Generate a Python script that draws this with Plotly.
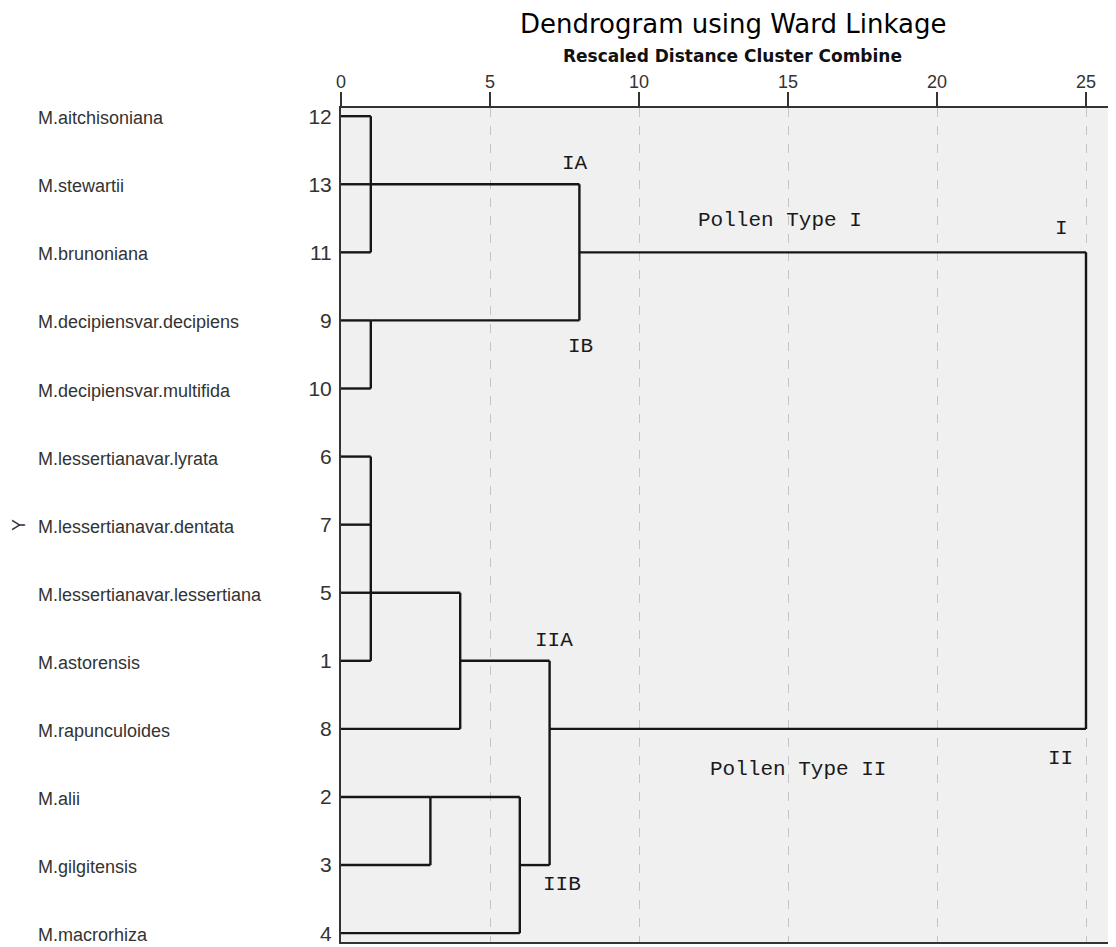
import plotly.graph_objects as go

# ---------------- data ----------------
leaf_names = ["M.aitchisoniana", "M.stewartii", "M.brunoniana",
              "M.decipiensvar.decipiens", "M.decipiensvar.multifida",
              "M.lessertianavar.lyrata", "M.lessertianavar.dentata",
              "M.lessertianavar.lessertiana", "M.astorensis",
              "M.rapunculoides", "M.alii", "M.gilgitensis", "M.macrorhiza"]
leaf_ids = ["12", "13", "11", "9", "10", "6", "7", "5", "1", "8", "2", "3", "4"]
# rescaled distance at which each leaf joins its first cluster
leaf_join = [1, 1, 1, 1, 1, 1, 1, 1, 1, 4, 3, 3, 6]

# merges: distance, first row, last row, row of the outgoing line, parent distance
merge_dist = [1, 1, 8, 1, 4, 3, 6, 7, 25]
merge_top = [0, 3, 1, 5, 7, 10, 10, 8, 2]
merge_bottom = [2, 4, 3, 8, 9, 11, 12, 11, 9]
merge_out = [1, 3, 2, 7, 8, 10, 11, 9, None]
merge_parent = [8, 8, 25, 4, 7, 6, 7, 25, None]

x_ticks = [0, 5, 10, 15, 20, 25]

cluster_labels = ["IA", "IB", "Pollen Type I", "I", "II", "Pollen Type II", "IIA", "IIB"]
cluster_label_x = [7.85, 8.05, 14.73, 24.19, 24.16, 15.34, 7.15, 7.42]
cluster_label_y = [0.69, 3.38, 1.53, 1.65, 9.44, 9.59, 7.70, 11.28]

# ---------------- build segments ----------------
xs, ys = [], []
for row, d in enumerate(leaf_join):
    xs += [0, d, None]
    ys += [row, row, None]
for d, t, b, o, p in zip(merge_dist, merge_top, merge_bottom, merge_out, merge_parent):
    xs += [d, d, None]
    ys += [t, b, None]
    if o is not None:
        xs += [d, p, None]
        ys += [o, o, None]

fig = go.Figure()
fig.add_trace(go.Scatter(x=xs, y=ys, mode="lines",
                         line=dict(color="#161616", width=2.4),
                         hoverinfo="skip", showlegend=False))

# page offset of the figure div (default body margin)
OX, OY = 8, 8
VW, VH = 1116, 947
W, H = VW - OX, VH - OY
# plot area in viewport pixels
PL, PT, PR, PB = 341, 108, 1116, 942
ML, MT = PL - OX, PT - OY
MR, MB = (W + OX) - PR, (H + OY) - PB
PW, PH = PR - PL, PB - PT


def px(xp):
    return (xp - PL) / PW


def py(yp):
    return (PB - yp) / PH


ann = []
for i, name in enumerate(leaf_names):
    ann.append(dict(text=name, xref="paper", yref="y", x=px(36), y=i + 0.03,
                    xanchor="left", yanchor="middle", showarrow=False,
                    font=dict(family="Liberation Sans, Arial", size=18, color="#333333")))
for t, x, y in zip(cluster_labels, cluster_label_x, cluster_label_y):
    ann.append(dict(text=t, xref="x", yref="y", x=x, y=y, xanchor="center",
                    yanchor="middle", showarrow=False,
                    font=dict(family="Liberation Mono, Courier New", size=21, color="#1a1a1a")))
ann.append(dict(text="Dendrogram using Ward Linkage", xref="paper", yref="paper",
                x=px(733), y=py(24), xanchor="center", yanchor="middle", showarrow=False,
                font=dict(family="DejaVu Sans", size=26, color="#000000")))
ann.append(dict(text="<b>Rescaled Distance Cluster Combine</b>", xref="paper", yref="paper",
                x=px(732), y=py(56), xanchor="center", yanchor="middle", showarrow=False,
                font=dict(family="DejaVu Sans", size=17, color="#111111")))
ann.append(dict(text="Y", xref="paper", yref="paper", x=px(19), y=py(525),
                xanchor="center", yanchor="middle", textangle=-90, showarrow=False,
                font=dict(family="Liberation Sans, Arial", size=18, color="#333333")))

fig.update_layout(
    width=W, height=H,
    margin=dict(l=ML, r=MR, t=MT, b=MB, pad=0),
    paper_bgcolor="white", plot_bgcolor="#f0f0f0",
    annotations=ann,
    xaxis=dict(side="top", range=[0, PW / 29.8], tickvals=x_ticks,
               ticktext=[str(v) for v in x_ticks],
               ticks="outside", ticklen=14, tickwidth=1.6, tickcolor="#333333",
               ticklabelstandoff=-3,
               showline=True, linewidth=2, linecolor="#333333", mirror=True,
               showgrid=True, gridcolor="#c4c4c4", gridwidth=1, griddash="dash",
               zeroline=False,
               tickfont=dict(family="Liberation Sans, Arial", size=18, color="#333333")),
    yaxis=dict(range=[12.13, -0.12], tickvals=list(range(len(leaf_ids))),
               ticktext=leaf_ids, ticks="", showgrid=False, zeroline=False,
               showline=True, linewidth=2, linecolor="#333333",
               ticklabelstandoff=3,
               tickfont=dict(family="Liberation Sans, Arial", size=21, color="#333333")),
)

fig.write_html("out.html")
